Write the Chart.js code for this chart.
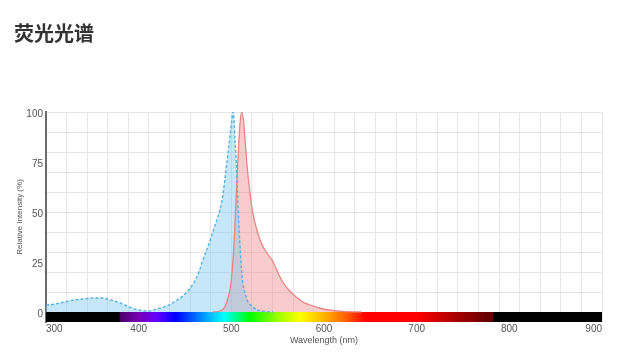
<!DOCTYPE html>
<html>
<head>
<meta charset="utf-8">
<script src="https://cdn.jsdelivr.net/npm/chart.js@4/dist/chart.umd.min.js"></script>
<style>
  html, body { margin: 0; padding: 0; background: #fff; }
  #wrap { position: relative; width: 618px; height: 355px; }
  #title { position: absolute; left: 14px; top: 19px; font-family: "Noto Sans CJK SC", sans-serif; font-weight: bold; font-size: 20px; line-height: 28px; color: #333; margin: 0; }
  canvas { position: absolute; left: 0; top: 0; }
</style>
</head>
<body>
<div id="wrap">
  <canvas id="c" width="618" height="355"></canvas>
  <div id="title">荧光光谱</div>
</div>
<script>
// ---- Data ----
const excitationNm = [300,310,320,330,340,350,360,370,380,390,400,410,420,430,440,450,460,465,470,475,480,485,490,495,498,500,502,504,506,508,510,512,515,518,522,528,535,545];
const excitationVal = [3.5,4,5,6,6.5,7,7,6,4.5,2.5,1,0.5,1.5,3,5.5,9,15,20,27,33,40,47,56,74,86,94,100,86,68,45,28,16,9,5,3,1,0.3,0];

const emissionNm = [480,488,493,497,500,503,505,507,509,511,513,515,517,520,523,527,531,535,540,544,548,552,557,563,570,577,585,595,605,620,640];
const emissionVal = [0,0.5,2.5,8,16,35,55,75,92,100,96,85,73,60,50,42,36,32,28.5,26,22,18,14,10.5,7.5,5,3.5,2,1,0.3,0];

const xMin = 300, xMax = 900;
const xTickLabels = [300,400,500,600,700,800,900];
const xGridDivisions = 27;
const yMin = -5, yMax = 100;
const yLabelValues = [0,25,50,75,100];
const yGridValues = [0,10,20,30,40,50,60,70,80,90,100];

// visible spectrum strip (wavelength, colour)
const spectrumNm =     [300, 379, 380, 400, 420, 440, 460, 480, 492, 505, 520, 550, 575, 600, 625, 645, 700, 782, 783, 900];
const spectrumColor = ['#000000','#000000','#4a0066','#7800b4','#6400ff','#0000ff','#0064ff','#00c8ff','#00ffff','#00ff90','#00ff00','#9cff00','#ffff00','#ffb400','#ff5a00','#ff0000','#ff0000','#5a0000','#000000','#000000'];

const excitationData = excitationNm.map((x, i) => ({x, y: excitationVal[i]}));
const emissionData = emissionNm.map((x, i) => ({x, y: emissionVal[i]}));

const spectrumPlugin = {
  id: 'spectrumStrip',
  beforeDatasetsDraw(chart) {
    const {ctx, chartArea, scales} = chart;
    const xs = scales.x;
    const y0 = scales.y.getPixelForValue(0);
    const x0 = xs.getPixelForValue(xMin), x1 = xs.getPixelForValue(xMax);
    const g = ctx.createLinearGradient(x0, 0, x1, 0);
    spectrumNm.forEach((nm, i) => g.addColorStop((nm - xMin) / (xMax - xMin), spectrumColor[i]));
    ctx.save();
    ctx.fillStyle = g;
    ctx.fillRect(x0, y0, x1 - x0, chartArea.bottom - y0);
    ctx.restore();
  }
};

const tickFont = { family: '"Liberation Sans", Arial, sans-serif', size: 10 };

new Chart(document.getElementById('c'), {
  type: 'line',
  data: {
    datasets: [
      {
        label: 'Excitation',
        data: excitationData,
        borderColor: '#5ab2e2',
        borderWidth: 1.4,
        borderDash: [3, 2],
        backgroundColor: 'rgba(128,202,237,0.45)',
        fill: 'origin',
        pointRadius: 0,
        cubicInterpolationMode: 'monotone'
      },
      {
        label: 'Emission',
        data: emissionData,
        borderColor: '#e88484',
        borderWidth: 1.3,
        backgroundColor: 'rgba(239,142,142,0.45)',
        fill: 'origin',
        pointRadius: 0,
        cubicInterpolationMode: 'monotone'
      }
    ]
  },
  options: {
    responsive: false,
    animation: false,
    devicePixelRatio: 1,
    layout: { padding: { left: 0, right: 16, top: 112, bottom: 0 } },
    plugins: {
      legend: { display: false },
      tooltip: { enabled: false },
      filler: { drawTime: 'beforeDatasetsDraw' }
    },
    scales: {
      x: {
        type: 'linear',
        position: 'bottom',
        min: xMin, max: xMax,
        afterBuildTicks(s) { s.ticks = xTickLabels.map(v => ({value: v})); },
        ticks: { align: 'inner', padding: 1, color: '#555', font: tickFont, autoSkip: false, maxRotation: 0 },
        grid: { display: false, drawTicks: false },
        border: { display: false },
        title: { display: true, text: 'Wavelength (nm)', color: '#555', font: { family: '"Liberation Sans", Arial, sans-serif', size: 9 }, padding: { top: 0, bottom: 9 } },
        afterFit(s) { s.height = 33; }
      },
      xGrid: {
        type: 'linear',
        position: 'bottom',
        min: xMin, max: xMax,
        afterBuildTicks(s) {
          const t = [];
          for (let k = 0; k <= xGridDivisions; k++) t.push({value: xMin + k * (xMax - xMin) / xGridDivisions});
          s.ticks = t;
        },
        ticks: { display: false },
        grid: { color: '#e6e6e6', lineWidth: 1, drawTicks: false },
        border: { display: false },
        afterFit(s) { s.height = 0; }
      },
      y: {
        type: 'linear',
        min: yMin, max: yMax,
        afterBuildTicks(s) {
          const vals = Array.from(new Set([...yGridValues, ...yLabelValues])).sort((a, b) => a - b);
          s.ticks = vals.map(v => ({value: v}));
        },
        ticks: {
          padding: 3, labelOffset: 2, color: '#555', font: tickFont, autoSkip: false,
          callback: v => yLabelValues.includes(v) ? String(v) : ''
        },
        grid: {
          drawTicks: false,
          color: c => (c.tick && yGridValues.includes(c.tick.value)) ? '#e6e6e6' : 'rgba(0,0,0,0)'
        },
        border: { display: true, color: '#6a6a6a', width: 2 },
        title: { display: true, text: 'Relative Intensity (%)', color: '#555', font: { family: '"Liberation Sans", Arial, sans-serif', size: 8 }, padding: { top: 15, bottom: 0 } },
        afterFit(s) { s.width = 46; }
      }
    }
  },
  plugins: [spectrumPlugin]
});
</script>
</body>
</html>
